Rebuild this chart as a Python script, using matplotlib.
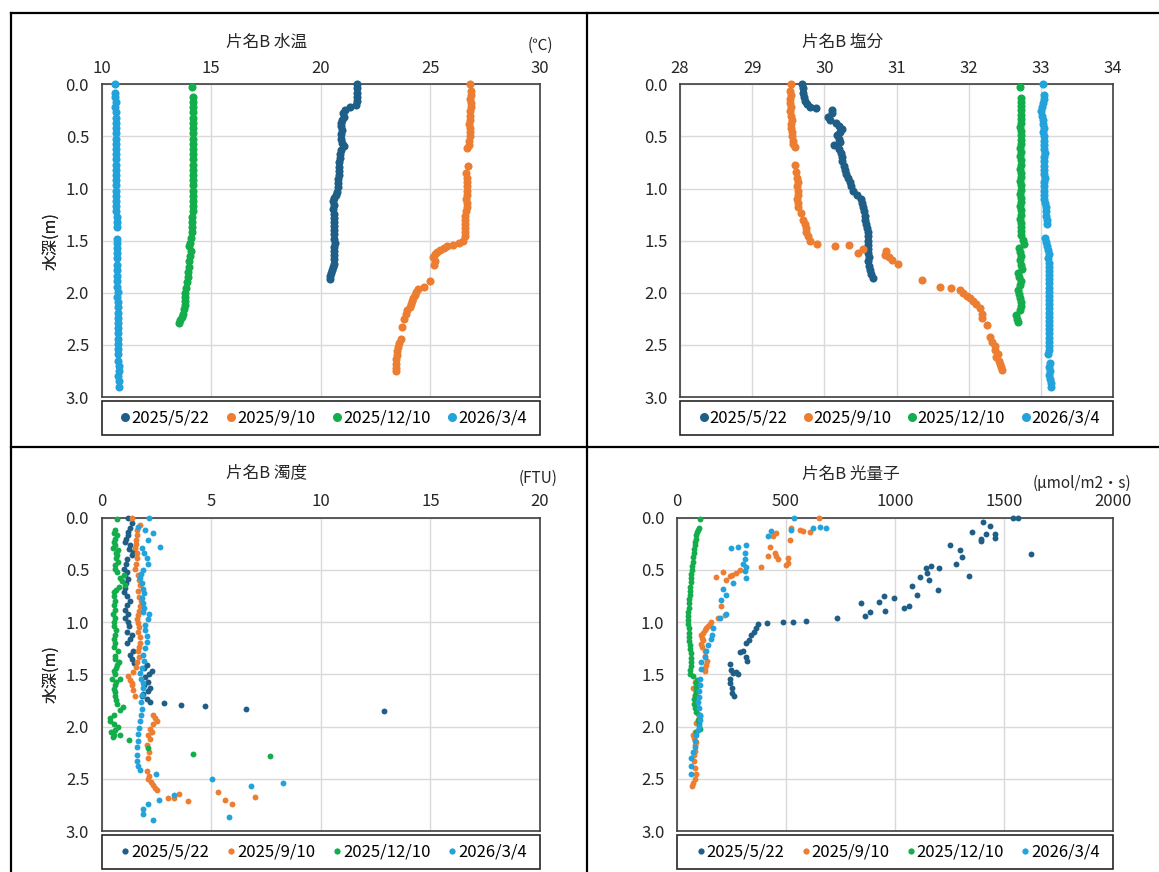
import matplotlib
matplotlib.use("Agg")
import matplotlib.pyplot as plt
from matplotlib.lines import Line2D
from matplotlib.patches import Rectangle

plt.rcParams['font.family'] = ['Noto Sans CJK JP', 'DejaVu Sans']

W, H = 1159, 872
DATES = ['2025/5/22', '2025/9/10', '2025/12/10', '2026/3/4']
COLORS = ['#1F5E86', '#ED7D31', '#13AE4B', '#22A3DB']

# ---------------- 水温 ----------------
temp_d_0522 = [0.00, 0.04, 0.08, 0.12, 0.16, 0.20, 0.22, 0.25, 0.28, 0.31,
               0.34, 0.37, 0.40, 0.44, 0.48, 0.52, 0.56, 0.59, 0.63, 0.67,
               0.71, 0.75, 0.79, 0.83, 0.87, 0.91, 0.95, 0.99, 1.03, 1.06,
               1.09, 1.12, 1.16, 1.20, 1.24, 1.28, 1.32, 1.36, 1.40, 1.44,
               1.48, 1.52, 1.56, 1.60, 1.64, 1.68, 1.72, 1.75, 1.78, 1.81,
               1.84, 1.87]
temp_v_0522 = [21.64, 21.65, 21.63, 21.64, 21.65, 21.60, 21.35, 21.10, 21.02, 21.05,
               20.98, 20.93, 20.92, 20.95, 20.90, 20.94, 20.98, 21.04, 20.92, 20.88,
               20.86, 20.85, 20.84, 20.82, 20.83, 20.80, 20.80, 20.78, 20.76, 20.70,
               20.62, 20.57, 20.58, 20.57, 20.60, 20.59, 20.61, 20.60, 20.62, 20.61,
               20.62, 20.63, 20.61, 20.62, 20.60, 20.59, 20.58, 20.55, 20.50, 20.46,
               20.43, 20.40]
temp_d_0910 = [0.00, 0.06, 0.10, 0.14, 0.18, 0.22, 0.26, 0.30, 0.34, 0.38,
               0.42, 0.46, 0.50, 0.54, 0.58, 0.61, 0.78, 0.85, 0.90, 0.94,
               0.98, 1.02, 1.06, 1.10, 1.14, 1.18, 1.22, 1.26, 1.30, 1.34,
               1.38, 1.42, 1.46, 1.50, 1.52, 1.54, 1.55, 1.57, 1.59, 1.61,
               1.63, 1.66, 1.70, 1.73, 1.89, 1.94, 1.96, 1.99, 2.02, 2.05,
               2.08, 2.11, 2.14, 2.17, 2.20, 2.25, 2.33, 2.44, 2.48, 2.52,
               2.56, 2.60, 2.64, 2.68, 2.72, 2.75]
temp_v_0910 = [26.82, 26.83, 26.84, 26.82, 26.83, 26.84, 26.82, 26.80, 26.82, 26.78,
               26.80, 26.82, 26.79, 26.78, 26.76, 26.68, 26.70, 26.64, 26.67, 26.68,
               26.66, 26.68, 26.66, 26.64, 26.67, 26.65, 26.62, 26.60, 26.59, 26.60,
               26.58, 26.58, 26.56, 26.48, 26.30, 26.05, 25.75, 25.60, 25.45, 25.32,
               25.22, 25.12, 25.20, 25.15, 24.98, 24.70, 24.45, 24.35, 24.28, 24.22,
               24.18, 24.12, 24.05, 23.95, 23.88, 23.80, 23.72, 23.65, 23.55, 23.50,
               23.47, 23.46, 23.44, 23.45, 23.43, 23.44]
temp_d_1210 = [0.03, 0.12, 0.17, 0.22, 0.27, 0.32, 0.37, 0.42, 0.47, 0.52,
               0.57, 0.62, 0.67, 0.72, 0.77, 0.82, 0.87, 0.92, 0.97,
               1.02, 1.07, 1.12, 1.17, 1.22, 1.27, 1.32, 1.37, 1.42, 1.47,
               1.52, 1.55, 1.60, 1.65, 1.70, 1.75, 1.80, 1.85, 1.90, 1.95,
               2.00, 2.04, 2.08, 2.12, 2.16, 2.20, 2.23, 2.26, 2.29]
temp_v_1210 = [14.12, 14.15, 14.15, 14.16, 14.15, 14.15, 14.16, 14.15, 14.16, 14.15,
               14.16, 14.15, 14.16, 14.15, 14.16, 14.16, 14.15, 14.16, 14.15,
               14.16, 14.15, 14.16, 14.15, 14.15, 14.14, 14.14, 14.13, 14.12, 14.10,
               14.04, 13.98, 14.06, 14.03, 14.01, 13.99, 13.95, 13.93, 13.90, 13.86,
               13.82, 13.80, 13.82, 13.79, 13.76, 13.72, 13.66, 13.58, 13.54]
temp_d_0304 = [0.00, 0.08, 0.12, 0.17, 0.22, 0.27, 0.32, 0.37, 0.42, 0.47,
               0.52, 0.57, 0.62, 0.67, 0.72, 0.77, 0.82, 0.87, 0.92, 0.97,
               1.02, 1.07, 1.12, 1.17, 1.22, 1.27, 1.32, 1.37,
               1.48, 1.52, 1.57, 1.62, 1.67, 1.73, 1.78, 1.84, 1.89, 1.94, 1.99,
               2.04, 2.09, 2.14, 2.19, 2.24, 2.29, 2.34, 2.39, 2.44, 2.49,
               2.54, 2.59, 2.65, 2.70, 2.75, 2.80, 2.85, 2.90]
temp_v_0304 = [10.62, 10.63, 10.63, 10.64, 10.63, 10.64, 10.64, 10.65, 10.64, 10.65,
               10.65, 10.64, 10.65, 10.66, 10.65, 10.66, 10.66, 10.65, 10.66, 10.67,
               10.66, 10.67, 10.66, 10.67, 10.67, 10.68, 10.69, 10.69,
               10.69, 10.70, 10.70, 10.71, 10.70, 10.71, 10.72, 10.71, 10.72, 10.72, 10.73,
               10.72, 10.73, 10.73, 10.74, 10.74, 10.75, 10.74, 10.75, 10.76, 10.76,
               10.77, 10.76, 10.77, 10.78, 10.78, 10.77, 10.78, 10.79]

# ---------------- 塩分 ----------------
sal_d_0522 = [0.00, 0.04, 0.08, 0.12, 0.16, 0.19, 0.22, 0.23, 0.25, 0.28,
              0.31, 0.34, 0.37, 0.40, 0.43, 0.46, 0.49, 0.52, 0.55, 0.58,
              0.62, 0.66, 0.70, 0.74, 0.78, 0.82, 0.86, 0.90, 0.94, 0.98,
              1.02, 1.06, 1.10, 1.14, 1.18, 1.22, 1.26, 1.30, 1.34, 1.38,
              1.42, 1.46, 1.50, 1.54, 1.58, 1.62, 1.66, 1.70, 1.74, 1.78,
              1.82, 1.86]
sal_v_0522 = [29.69, 29.70, 29.71, 29.72, 29.73, 29.76, 29.80, 29.88, 30.11, 30.10,
              30.05, 30.08, 30.16, 30.20, 30.24, 30.22, 30.18, 30.21, 30.22, 30.13,
              30.20, 30.23, 30.24, 30.25, 30.27, 30.28, 30.30, 30.33, 30.35, 30.37,
              30.40, 30.45, 30.51, 30.52, 30.53, 30.55, 30.56, 30.57, 30.58, 30.59,
              30.60, 30.61, 30.61, 30.61, 30.60, 30.61, 30.62, 30.61, 30.62, 30.63,
              30.65, 30.68]
sal_d_0910 = [0.00, 0.06, 0.10, 0.14, 0.18, 0.22, 0.26, 0.30, 0.34, 0.38,
              0.42, 0.46, 0.50, 0.54, 0.57, 0.60, 0.77, 0.84, 0.90, 0.94,
              0.98, 1.02, 1.06, 1.10, 1.14, 1.18, 1.23, 1.30, 1.34, 1.38,
              1.42, 1.46, 1.50, 1.53, 1.55, 1.54, 1.58, 1.62, 1.60, 1.64,
              1.66, 1.69, 1.72, 1.88, 1.94, 1.95, 1.97, 2.00, 2.03, 2.05,
              2.08, 2.11, 2.15, 2.20, 2.24, 2.31, 2.42, 2.47, 2.51, 2.55,
              2.59, 2.62, 2.65, 2.68, 2.71, 2.74]
sal_v_0910 = [29.54, 29.53, 29.54, 29.53, 29.52, 29.54, 29.53, 29.54, 29.55, 29.54,
              29.54, 29.55, 29.55, 29.56, 29.57, 29.60, 29.59, 29.61, 29.62, 29.63,
              29.62, 29.63, 29.63, 29.62, 29.63, 29.63, 29.67, 29.71, 29.73, 29.74,
              29.75, 29.77, 29.80, 29.90, 30.15, 30.34, 30.54, 30.46, 30.85, 30.84,
              30.90, 30.94, 31.02, 31.35, 31.60, 31.76, 31.88, 31.92, 31.97, 32.02,
              32.06, 32.10, 32.16, 32.19, 32.18, 32.25, 32.30, 32.32, 32.36, 32.37,
              32.40, 32.38, 32.42, 32.44, 32.45, 32.46]
sal_d_1210 = [0.03, 0.13, 0.17, 0.21, 0.25, 0.29, 0.33, 0.37, 0.41, 0.45,
              0.49, 0.53, 0.57, 0.61, 0.65, 0.69, 0.73, 0.77, 0.81, 0.85,
              0.89, 0.93, 0.97, 1.01, 1.05, 1.09, 1.13, 1.17, 1.21, 1.25,
              1.29, 1.33, 1.37, 1.41, 1.45, 1.49, 1.53, 1.57, 1.61, 1.65,
              1.69, 1.73, 1.77, 1.81, 1.85, 1.89, 1.93, 1.97, 2.01, 2.05,
              2.09, 2.13, 2.17, 2.21, 2.25, 2.28]
sal_v_1210 = [32.71, 32.72, 32.73, 32.72, 32.73, 32.72, 32.73, 32.72, 32.71, 32.72,
              32.72, 32.73, 32.72, 32.71, 32.72, 32.71, 32.72, 32.72, 32.71, 32.72,
              32.72, 32.71, 32.72, 32.72, 32.71, 32.72, 32.72, 32.71, 32.72, 32.72,
              32.71, 32.72, 32.72, 32.73, 32.72, 32.75, 32.76, 32.70, 32.71, 32.72,
              32.71, 32.73, 32.74, 32.68, 32.70, 32.72, 32.71, 32.69, 32.70, 32.71,
              32.72, 32.72, 32.71, 32.66, 32.67, 32.68]
sal_d_0304 = [0.00, 0.10, 0.14, 0.18, 0.22, 0.26, 0.30, 0.34, 0.38, 0.42,
              0.46, 0.50, 0.54, 0.58, 0.62, 0.66, 0.70, 0.74, 0.78, 0.82,
              0.86, 0.90, 0.94, 0.98, 1.02, 1.06, 1.10, 1.14, 1.18, 1.22,
              1.26, 1.30, 1.34, 1.47, 1.51, 1.55, 1.59, 1.63, 1.67, 1.71,
              1.75, 1.79, 1.83, 1.87, 1.91, 1.95, 1.99, 2.03, 2.07, 2.11,
              2.15, 2.19, 2.23, 2.27, 2.31, 2.35, 2.39, 2.43, 2.47, 2.51,
              2.55, 2.59, 2.67, 2.71, 2.75, 2.79, 2.83, 2.87, 2.90]
sal_v_0304 = [33.03, 33.04, 33.04, 33.03, 33.02, 33.00, 33.02, 33.03, 33.03, 33.04,
              33.03, 33.04, 33.04, 33.05, 33.05, 33.06, 33.04, 33.04, 33.04, 33.05,
              33.05, 33.06, 33.05, 33.05, 33.04, 33.04, 33.05, 33.06, 33.07, 33.07,
              33.07, 33.08, 33.09, 33.06, 33.07, 33.08, 33.10, 33.11, 33.10, 33.11,
              33.12, 33.11, 33.11, 33.12, 33.11, 33.12, 33.11, 33.12, 33.11, 33.12,
              33.11, 33.12, 33.11, 33.12, 33.12, 33.11, 33.12, 33.12, 33.11, 33.12,
              33.11, 33.10, 33.13, 33.12, 33.13, 33.12, 33.13, 33.14, 33.14]

# ---------------- 濁度 ----------------
tur_d_0522 = [0.00, 0.05, 0.10, 0.14, 0.17, 0.20, 0.23, 0.26, 0.30, 0.33,
              0.36, 0.40, 0.44, 0.49, 0.52, 0.55, 0.59, 0.63, 0.67, 0.71,
              0.75, 0.80, 0.84, 0.88, 0.92, 0.96, 1.00, 1.04, 1.09, 1.12,
              1.16, 1.20, 1.28, 1.31, 1.35, 1.39, 1.41, 1.44, 1.47, 1.50,
              1.53, 1.57, 1.60, 1.63, 1.66, 1.69, 1.71, 1.74, 1.76, 1.77,
              1.79, 1.80, 1.83, 1.85]
tur_v_0522 = [1.19, 1.37, 1.30, 1.22, 1.22, 1.10, 1.07, 1.30, 1.25, 1.45,
              1.37, 1.18, 1.10, 1.00, 1.15, 1.07, 1.20, 1.10, 1.05, 1.00,
              1.15, 1.30, 1.14, 1.05, 1.20, 1.07, 1.22, 1.25, 1.14, 1.38,
              1.30, 1.18, 1.45, 1.30, 1.37, 1.50, 2.06, 1.95, 2.28, 2.15,
              2.00, 2.13, 1.95, 2.21, 2.10, 1.90, 1.85, 2.05, 2.21, 2.85,
              3.61, 4.70, 6.59, 12.90]
tur_d_0910 = [0.00, 0.07, 0.12, 0.17, 0.21, 0.25, 0.29, 0.34, 0.39, 0.44,
              0.49, 0.55, 0.60, 0.64, 0.70, 0.76, 0.80, 0.85, 0.89, 0.93,
              0.97, 1.01, 1.05, 1.09, 1.14, 1.20, 1.24, 1.28, 1.33, 1.38,
              1.43, 1.48, 1.52, 1.55, 1.58, 1.60, 1.65, 1.71, 1.89, 1.92,
              1.95, 1.98, 2.02, 2.05, 2.08, 2.12, 2.18, 2.24, 2.30, 2.43,
              2.47, 2.50, 2.53, 2.56, 2.59, 2.61, 2.65, 2.68, 2.68, 2.71,
              2.63, 2.70, 2.74, 2.67]
tur_v_0910 = [1.37, 1.75, 1.60, 1.60, 1.55, 1.58, 1.52, 1.62, 1.60, 1.55,
              1.52, 1.68, 1.72, 1.75, 1.68, 1.72, 1.80, 1.75, 1.70, 1.65,
              1.60, 1.68, 1.72, 1.65, 1.75, 1.75, 1.70, 1.68, 1.72, 1.63,
              1.58, 1.45, 1.22, 1.30, 1.40, 1.37, 1.45, 1.52, 2.36, 2.45,
              2.51, 2.35, 2.21, 2.30, 2.13, 2.20, 2.06, 2.15, 2.13, 2.06,
              2.15, 2.13, 2.25, 2.35, 2.45, 2.51, 3.52, 3.04, 3.30, 3.96,
              5.30, 5.63, 5.93, 6.98]
tur_d_1210 = [0.01, 0.12, 0.15, 0.17, 0.20, 0.23, 0.26, 0.29, 0.31, 0.34,
              0.36, 0.39, 0.42, 0.45, 0.49, 0.52, 0.55, 0.58, 0.61, 0.64,
              0.66, 0.69, 0.71, 0.75, 0.80, 0.84, 0.88, 0.92, 0.96, 1.00,
              1.04, 1.08, 1.12, 1.16, 1.20, 1.24, 1.28, 1.32, 1.35, 1.38,
              1.41, 1.44, 1.47, 1.50, 1.54, 1.54, 1.57, 1.60, 1.64, 1.67,
              1.71, 1.75, 1.78, 1.81, 1.84, 1.89, 1.92, 1.95, 1.98, 2.00,
              2.03, 2.05, 2.08, 2.08, 2.10, 2.13, 2.21, 2.26, 2.28]
tur_v_1210 = [0.69, 0.61, 0.58, 0.69, 0.62, 0.55, 0.60, 0.54, 0.76, 0.65,
              0.70, 0.66, 0.76, 0.60, 0.62, 0.71, 1.00, 0.85, 0.95, 1.05,
              0.80, 0.66, 0.56, 0.58, 0.62, 0.55, 0.60, 0.54, 0.62, 0.56,
              0.58, 0.65, 0.61, 0.57, 0.60, 0.58, 0.74, 0.60, 0.63, 0.78,
              0.72, 0.66, 0.56, 0.62, 0.46, 0.84, 0.65, 0.60, 0.56, 0.62,
              0.60, 0.64, 0.72, 0.99, 0.85, 0.55, 0.40, 0.38, 0.55, 0.75,
              0.60, 0.42, 0.58, 0.85, 0.50, 1.25, 2.13, 4.18, 7.68]
tur_d_0304 = [0.00, 0.09, 0.12, 0.15, 0.21, 0.28, 0.29, 0.34, 0.39, 0.44,
              0.50, 0.54, 0.58, 0.63, 0.68, 0.72, 0.77, 0.82, 0.86, 0.90,
              0.92, 0.97, 1.03, 1.08, 1.13, 1.19, 1.25, 1.31, 1.37, 1.44,
              1.49, 1.54, 1.58, 1.63, 1.70, 1.76, 1.83, 1.89, 1.95, 2.01,
              2.07, 2.14, 2.20, 2.27, 2.33, 2.38, 2.42, 2.45, 2.50, 2.57,
              2.54, 2.70, 2.66, 2.74, 2.79, 2.84, 2.89, 2.87]
tur_v_0304 = [2.18, 1.68, 1.98, 2.36, 2.13, 2.66, 1.83, 1.95, 2.06, 2.10,
              1.91, 1.80, 1.75, 1.85, 1.91, 1.95, 1.83, 1.88, 1.95, 1.91,
              2.18, 2.10, 1.98, 2.00, 2.06, 2.06, 2.00, 1.91, 1.95, 1.83,
              1.75, 1.80, 1.91, 1.91, 1.85, 1.80, 1.83, 1.78, 1.75, 1.70,
              1.65, 1.68, 1.62, 1.60, 1.62, 1.68, 1.75, 2.48, 5.02, 6.82,
              8.29, 2.63, 3.30, 2.13, 1.91, 1.91, 2.33, 5.83]

# ---------------- 光量子 ----------------
par_d_0522 = [0.00, 0.00, 0.04, 0.08, 0.14, 0.16, 0.16, 0.19, 0.20, 0.22,
              0.35, 0.26, 0.31, 0.38, 0.44, 0.46, 0.48, 0.48, 0.53, 0.56,
              0.57, 0.60, 0.65, 0.69, 0.74, 0.75, 0.77, 0.81, 0.82, 0.85,
              0.86, 0.89, 0.90, 0.94, 0.96, 0.99, 1.00, 1.00, 1.01, 1.02,
              1.06, 1.09, 1.12, 1.17, 1.20, 1.28, 1.29, 1.33, 1.37, 1.40,
              1.46, 1.48, 1.49, 1.50, 1.54, 1.58, 1.63, 1.68, 1.71]
par_v_0522 = [1541, 1566, 1405, 1435, 1352, 1418, 1457, 1460, 1396, 1393,
              1625, 1254, 1297, 1309, 1279, 1167, 1200, 1141, 1147, 1340,
              1113, 1158, 1077, 1195, 1099, 948, 995, 928, 843, 1065,
              1040, 953, 886, 864, 735, 591, 531, 487, 413, 372,
              364, 352, 341, 330, 318, 303, 291, 318, 321, 242,
              249, 272, 257, 280, 242, 245, 250, 254, 260]
par_d_0910 = [0.00, 0.10, 0.12, 0.13, 0.14, 0.15, 0.18, 0.21, 0.28, 0.34,
              0.37, 0.37, 0.40, 0.39, 0.43, 0.45, 0.47, 0.50, 0.53, 0.55,
              0.56, 0.52, 0.57, 0.60, 0.85, 0.93, 0.96, 1.00, 1.02, 1.04,
              1.06, 1.08, 1.10, 1.12, 1.15, 1.17, 1.21, 1.24, 1.28, 1.32,
              1.37, 1.41, 1.44, 1.47, 1.57, 1.63, 1.67, 1.71, 1.80, 1.88,
              1.92, 1.97, 2.05, 2.08, 2.11, 2.15, 2.18, 2.23, 2.27, 2.33,
              2.40, 2.45, 2.50, 2.54, 2.57]
par_v_0910 = [651, 525, 562, 580, 608, 456, 440, 517, 425, 450,
              417, 456, 463, 509, 509, 500, 387, 287, 272, 250,
              242, 211, 181, 226, 204, 219, 188, 158, 150, 142,
              134, 127, 120, 112, 115, 120, 112, 115, 127, 130,
              138, 135, 127, 130, 81, 74, 88, 81, 90, 97,
              100, 88, 81, 74, 80, 86, 82, 81, 78, 80,
              81, 85, 81, 74, 71]
par_d_1210 = [0.01, 0.10, 0.12, 0.14, 0.17, 0.20, 0.23, 0.26, 0.30, 0.34,
              0.38, 0.42, 0.46, 0.50, 0.54, 0.58, 0.62, 0.66, 0.70, 0.74,
              0.78, 0.82, 0.86, 0.90, 0.94, 0.98, 1.02, 1.06, 1.10, 1.14,
              1.18, 1.22, 1.26, 1.30, 1.34, 1.38, 1.42, 1.46, 1.50, 1.52,
              1.55, 1.58, 1.62, 1.66, 1.70, 1.74, 1.78, 1.82, 1.86, 1.90,
              1.94, 1.98, 2.02, 2.05]
par_v_1210 = [104, 100, 97, 92, 89, 86, 84, 81, 78, 76,
              74, 72, 70, 68, 66, 64, 62, 60, 58, 58,
              56, 55, 54, 52, 51, 51, 52, 53, 55, 56,
              57, 58, 60, 62, 64, 66, 62, 58, 60, 74,
              90, 88, 89, 86, 84, 80, 78, 82, 86, 104,
              98, 100, 107, 89]
par_d_0304 = [0.00, 0.09, 0.10, 0.10, 0.12, 0.13, 0.18, 0.26, 0.28, 0.29,
              0.34, 0.40, 0.44, 0.47, 0.51, 0.58, 0.63, 0.68, 0.74, 0.79,
              0.92, 0.96, 1.06, 1.12, 1.16, 1.22, 1.28, 1.33, 1.38, 1.45,
              1.54, 1.60, 1.66, 1.72, 1.76, 1.82, 1.89, 1.94, 1.99, 2.03,
              2.08, 2.14, 2.20, 2.24, 2.30, 2.38, 2.45]
par_v_0304 = [535, 654, 624, 685, 524, 433, 417, 315, 280, 249,
              310, 310, 305, 315, 312, 318, 257, 211, 226, 204,
              226, 196, 165, 160, 158, 142, 135, 128, 112, 110,
              107, 104, 100, 102, 97, 100, 104, 106, 101, 96,
              89, 84, 81, 74, 66, 66, 62]

DEPTH_TICKS = [0.0, 0.5, 1.0, 1.5, 2.0, 2.5, 3.0]

panels = [
    dict(rect=(101.6, 84.3, 540.0, 397.0), title='片名B 水温', title_xy=(267, 42),
         unit='(℃)', unit_xy=(553, 45), xlim=(10, 30), xticks=[10, 15, 20, 25, 30],
         ms=34, lms=6.5,
         series=[(temp_v_0522, temp_d_0522), (temp_v_0910, temp_d_0910),
                 (temp_v_1210, temp_d_1210), (temp_v_0304, temp_d_0304)]),
    dict(rect=(680.0, 84.3, 1113.0, 397.0), title='片名B 塩分', title_xy=(843, 42),
         unit=None, unit_xy=None, xlim=(28, 34), xticks=[28, 29, 30, 31, 32, 33, 34],
         ms=34, lms=6.5,
         series=[(sal_v_0522, sal_d_0522), (sal_v_0910, sal_d_0910),
                 (sal_v_1210, sal_d_1210), (sal_v_0304, sal_d_0304)]),
    dict(rect=(101.6, 517.7, 540.0, 831.0), title='片名B 濁度', title_xy=(267, 473),
         unit='(FTU)', unit_xy=(557, 478), xlim=(0, 20), xticks=[0, 5, 10, 15, 20],
         ms=18, lms=4.5,
         series=[(tur_v_0522, tur_d_0522), (tur_v_0910, tur_d_0910),
                 (tur_v_1210, tur_d_1210), (tur_v_0304, tur_d_0304)]),
    dict(rect=(677.0, 517.7, 1113.0, 831.0), title='片名B 光量子', title_xy=(851, 474),
         unit='(μmol/m2・s)', unit_xy=(1131, 483), xlim=(0, 2000),
         xticks=[0, 500, 1000, 1500, 2000],
         ms=18, lms=4.5,
         series=[(par_v_0522, par_d_0522), (par_v_0910, par_d_0910),
                 (par_v_1210, par_d_1210), (par_v_0304, par_d_0304)]),
]

fig = plt.figure(figsize=(W / 100, H / 100), dpi=100)
fig.patch.set_facecolor('white')

def fx(px):
    return px / W

def fy(py):
    return 1 - py / H

for p in panels:
    x0, y0, x1, y1 = p['rect']
    aw, ah = x1 - x0, y1 - y0
    ax = fig.add_axes([fx(x0), fy(y1), aw / W, ah / H])
    for (vals, deps), col in zip(p['series'], COLORS):
        ax.scatter(vals, deps, s=p['ms'], color=col, linewidths=0,
                   zorder=3, clip_on=False)
    ax.set_xlim(*p['xlim'])
    ax.set_ylim(3.0, 0.0)
    ax.set_xticks(p['xticks'])
    ax.set_xticklabels([str(t) for t in p['xticks']])
    ax.set_yticks(DEPTH_TICKS)
    ax.set_yticklabels([f'{t:.1f}' for t in DEPTH_TICKS])
    ax.xaxis.tick_top()
    ax.tick_params(axis='x', length=0, pad=5.5, labelsize=12, colors='#262626')
    ax.tick_params(axis='y', length=0, pad=9.0, labelsize=12, colors='#262626')
    ax.grid(True, color='#D9D9D9', linewidth=1.0)
    ax.set_axisbelow(True)
    for sp in ax.spines.values():
        sp.set_color('#404040')
        sp.set_linewidth(1.2)
    ax.set_ylabel('水深(m)', fontsize=11.5, color='#262626')
    ax.yaxis.set_label_coords(-(x0 - 59) / aw, 0.5)

    # legend box (frame spans the full axes width)
    box_top, box_h = 4.0, 34.0
    ax.add_patch(Rectangle((0.0, -(box_top + box_h) / ah), 1.0, box_h / ah,
                           transform=ax.transAxes, fill=False,
                           edgecolor='#262626', linewidth=1.2, clip_on=False))
    handles = [Line2D([], [], linestyle='none', marker='o', markersize=p['lms'],
                      markerfacecolor=c, markeredgewidth=0) for c in COLORS]
    ax.legend(handles, DATES, loc='center left',
              bbox_to_anchor=(0.045, -(box_top + box_h / 2) / ah, 0.925, 0.0),
              mode='expand', ncol=4, borderaxespad=0.0, fontsize=12,
              handlelength=0.5, handletextpad=0.1, columnspacing=0.8,
              borderpad=0.0, frameon=False)

    fig.text(fx(p['title_xy'][0]), fy(p['title_xy'][1]), p['title'],
             ha='center', va='center', fontsize=12, color='#262626')
    if p['unit']:
        fig.text(fx(p['unit_xy'][0]), fy(p['unit_xy'][1]), p['unit'],
                 ha='right', va='center', fontsize=11, color='#262626')

# panel frame lines
lw = 1.6
fig.add_artist(Line2D([fx(11), 1.0], [fy(13), fy(13)], color='black', lw=lw))
fig.add_artist(Line2D([fx(11), 1.0], [fy(447), fy(447)], color='black', lw=lw))
fig.add_artist(Line2D([fx(11), fx(11)], [fy(13), 0.0], color='black', lw=lw))
fig.add_artist(Line2D([fx(587), fx(587)], [fy(13), 0.0], color='black', lw=lw))

fig.savefig('out.png', dpi=100, facecolor='white')
